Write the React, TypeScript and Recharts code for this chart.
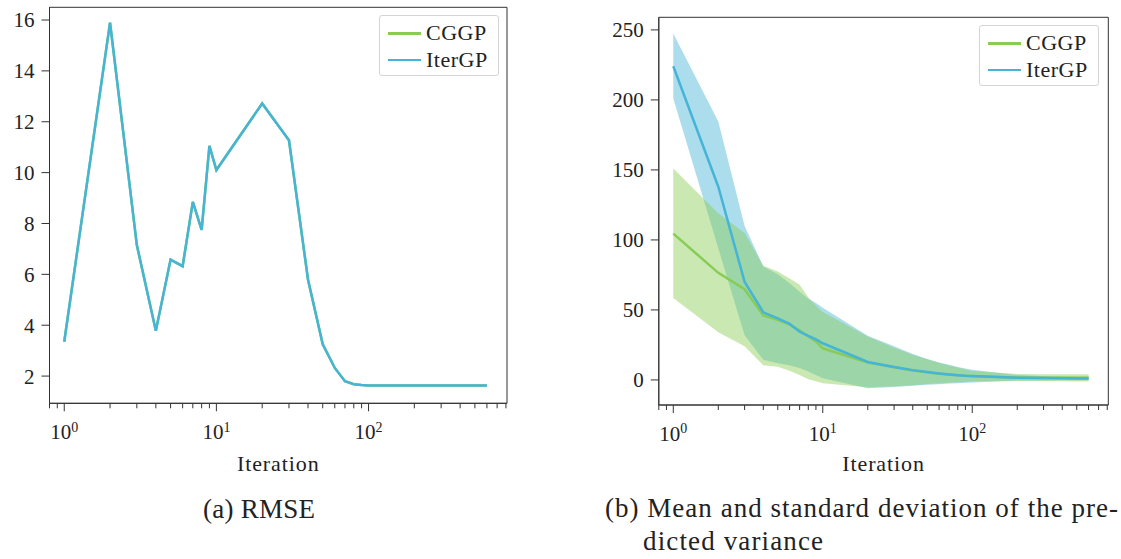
import React from "react";
import {
  ComposedChart,
  Line,
  Area,
  XAxis,
  YAxis,
  ReferenceArea,
  Legend,
} from "recharts";

// iterations on a log axis
const iterations = [1, 2, 3, 4, 5, 6, 7, 8, 9, 10, 20, 30, 40, 50, 60, 70, 80, 90, 100, 200, 300, 400, 500, 600];

// (a) RMSE - both solvers give the same curve
const rmseCGGP = [3.35, 15.9, 7.15, 3.78, 6.58, 6.32, 8.85, 7.75, 11.05, 10.1, 12.72, 11.27, 5.8, 3.25, 2.32, 1.8, 1.68, 1.65, 1.63, 1.63, 1.63, 1.63, 1.63, 1.63];
const rmseIterGP = [3.35, 15.9, 7.15, 3.78, 6.58, 6.32, 8.85, 7.75, 11.05, 10.1, 12.72, 11.27, 5.8, 3.25, 2.32, 1.8, 1.68, 1.65, 1.63, 1.63, 1.63, 1.63, 1.63, 1.63];

// (b) predicted variance: mean and mean +- std
const meanCGGP = [104.5, 76.5, 64.8, 46, 43, 39.5, 35.5, 31, 27.5, 22.6, 12.4, 9, 6.8, 5.4, 4.5, 3.8, 3.3, 2.9, 2.6, 1.7, 1.5, 1.5, 1.5, 1.5];
const lowCGGP = [58.5, 34, 24, 10.5, 9.5, 6.5, 3.5, 0.5, -1, -2.4, -5.2, -4.5, -3.8, -2.9, -2.4, -2, -1.7, -1.4, -1.2, -0.5, -0.8, -1, -1.1, -1.2];
const highCGGP = [151, 119, 105, 81.5, 77.5, 72.5, 68, 59, 53, 48.5, 31, 23, 18, 14.8, 12.2, 10.3, 8.8, 7.5, 6.4, 4.3, 4.1, 4, 4, 4];
const meanIterGP = [224, 138, 70, 48.3, 44, 40, 34.5, 31.5, 29, 26.2, 12.8, 9.3, 7, 5.6, 4.6, 3.9, 3.4, 3, 2.8, 1.6, 1.3, 1.2, 1.1, 1.1];
const lowIterGP = [201, 94, 32, 14.5, 12, 10.5, 8.5, 6, 3.5, 1.2, -6, -5, -4.2, -3.5, -3, -2.6, -2.3, -2, -1.8, -0.6, -0.4, -0.3, -0.3, -0.3];
const highIterGP = [247.5, 184.5, 110, 81, 75.5, 69, 63, 58, 55, 51.5, 31.5, 24, 18.5, 15, 12.5, 10.8, 9.3, 8.2, 7.2, 3.5, 2.6, 2.4, 2.3, 2.3];

const xTicks = [0.8, 0.9, 1, 2, 3, 4, 5, 6, 7, 8, 9, 10, 20, 30, 40, 50, 60, 70, 80, 90, 100, 200, 300, 400, 500, 600, 700, 800];
const majorTicks = [1, 10, 100];
const rmseTicks = [2, 4, 6, 8, 10, 12, 14, 16];
const varTicks = [0, 50, 100, 150, 200, 250];

const X_DOMAIN = [0.8, 813];
const RMSE_DOMAIN = [0.93, 16.5];
const VAR_DOMAIN = [-17.9, 259];

const GREEN = "#88cc55";
const BLUE = "#46b4d6";
const INK = "#222";
const FONT = '"Liberation Serif", "DejaVu Serif", serif';

const rmseData = iterations.map((x, i) => ({
  x,
  cggp: rmseCGGP[i],
  itergp: rmseIterGP[i],
}));

const varData = iterations.map((x, i) => ({
  x,
  cggp: meanCGGP[i],
  itergp: meanIterGP[i],
  cggpBand: [lowCGGP[i], highCGGP[i]],
  itergpBand: [lowIterGP[i], highIterGP[i]],
}));

function LogTick(props: any) {
  const { x, y, payload } = props;
  const v = payload.value;
  const major = majorTicks.includes(v);
  return (
    <g>
      <line x1={x} x2={x} y1={y} y2={y + (major ? 8 : 5)} stroke="#333" strokeWidth={1} />
      {major && (
        <text x={x} y={y + 35.7} textAnchor="middle" fontSize={21} fill={INK} fontFamily={FONT}>
          <tspan>10</tspan>
          <tspan dy={-7.5} fontSize={14}>
            {Math.round(Math.log10(v))}
          </tspan>
        </text>
      )}
    </g>
  );
}

function LegendBox(props: any) {
  const items = (props.payload || []).filter((p: any) => p.type !== "none");
  return (
    <div
      style={{
        boxSizing: "border-box",
        width: 120,
        height: 61,
        paddingTop: 4,
        border: "1px solid #d4d4d4",
        borderRadius: 3,
        background: "rgba(255,255,255,0.85)",
        fontFamily: FONT,
      }}
    >
      {items.map((p: any) => (
        <div key={p.value} style={{ display: "flex", alignItems: "center", height: 26.7 }}>
          <span style={{ width: 33, height: 2.5, marginLeft: 8, background: p.color }} />
          <span style={{ marginLeft: 5, fontSize: 22, letterSpacing: 0.5, color: INK, lineHeight: "22px" }}>
            {p.value}
          </span>
        </div>
      ))}
    </div>
  );
}

const xLabel = {
  value: "Iteration",
  position: "insideBottom" as const,
  offset: 9,
  fontSize: 22,
  fill: INK,
  style: { letterSpacing: 0.9 },
};

function RmseChart() {
  return (
    <ComposedChart
      width={520}
      height={480}
      data={rmseData}
      margin={{ top: 7.3, right: 13, bottom: 0, left: 0 }}
    >
      <XAxis
        dataKey="x"
        type="number"
        scale="log"
        domain={X_DOMAIN}
        allowDataOverflow
        ticks={xTicks}
        interval={0}
        tick={<LogTick />}
        tickLine={false}
        tickSize={0}
        tickMargin={0}
        height={76.7}
        axisLine={{ stroke: "#333" }}
        label={xLabel}
      />
      <YAxis
        type="number"
        domain={RMSE_DOMAIN}
        allowDataOverflow
        ticks={rmseTicks}
        interval={0}
        width={49.5}
        tickSize={8}
        tickMargin={7}
        tickLine={{ stroke: "#333" }}
        axisLine={{ stroke: "#333" }}
        tick={{ fontSize: 21, fill: INK }}
      />
      <ReferenceArea
        x1={X_DOMAIN[0]}
        x2={X_DOMAIN[1]}
        y1={RMSE_DOMAIN[0]}
        y2={RMSE_DOMAIN[1]}
        fill="none"
        stroke="#333"
        strokeWidth={1}
        ifOverflow="visible"
      />
      <Line dataKey="cggp" name="CGGP" type="linear" stroke={GREEN} strokeWidth={2.5} dot={false} activeDot={false} isAnimationActive={false} />
      <Line dataKey="itergp" name="IterGP" type="linear" stroke={BLUE} strokeWidth={2.5} dot={false} activeDot={false} isAnimationActive={false} />
      <Legend
        layout="vertical"
        align="center"
        verticalAlign="middle"
        wrapperStyle={{ left: 379, top: 15, width: 120 }}
        content={<LegendBox />}
      />
    </ComposedChart>
  );
}

function VarianceChart() {
  return (
    <ComposedChart
      width={520}
      height={480}
      data={varData}
      margin={{ top: 17.3, right: 11.7, bottom: 0, left: 0 }}
    >
      <XAxis
        dataKey="x"
        type="number"
        scale="log"
        domain={X_DOMAIN}
        allowDataOverflow
        ticks={xTicks}
        interval={0}
        tick={<LogTick />}
        tickLine={false}
        tickSize={0}
        tickMargin={0}
        height={75}
        axisLine={{ stroke: "#333" }}
        label={xLabel}
      />
      <YAxis
        type="number"
        domain={VAR_DOMAIN}
        allowDataOverflow
        ticks={varTicks}
        interval={0}
        width={58.8}
        tickSize={8}
        tickMargin={7}
        tickLine={{ stroke: "#333" }}
        axisLine={{ stroke: "#333" }}
        tick={{ fontSize: 21, fill: INK }}
      />
      <ReferenceArea
        x1={X_DOMAIN[0]}
        x2={X_DOMAIN[1]}
        y1={VAR_DOMAIN[0]}
        y2={VAR_DOMAIN[1]}
        fill="none"
        stroke="#333"
        strokeWidth={1}
        ifOverflow="visible"
      />
      <Area dataKey="itergpBand" type="linear" stroke="none" fill={BLUE} fillOpacity={0.45} legendType="none" dot={false} activeDot={false} isAnimationActive={false} />
      <Area dataKey="cggpBand" type="linear" stroke="none" fill={GREEN} fillOpacity={0.45} legendType="none" dot={false} activeDot={false} isAnimationActive={false} />
      <Line dataKey="cggp" name="CGGP" type="linear" stroke={GREEN} strokeWidth={2.5} dot={false} activeDot={false} isAnimationActive={false} />
      <Line dataKey="itergp" name="IterGP" type="linear" stroke={BLUE} strokeWidth={2.5} dot={false} activeDot={false} isAnimationActive={false} />
      <Legend
        layout="vertical"
        align="center"
        verticalAlign="middle"
        wrapperStyle={{ left: 379, top: 25, width: 120 }}
        content={<LegendBox />}
      />
    </ComposedChart>
  );
}

export default function App() {
  return (
    <div
      style={{
        position: "absolute",
        left: 0,
        top: 0,
        width: 1121,
        height: 559,
        background: "#fff",
        fontFamily: FONT,
      }}
    >
      <div style={{ position: "absolute", left: 0, top: 0 }}>
        <RmseChart />
      </div>
      <div style={{ position: "absolute", left: 600, top: 0 }}>
        <VarianceChart />
      </div>
      <svg
        width={1121}
        height={559}
        style={{ position: "absolute", left: 0, top: 0, pointerEvents: "none" }}
      >
        <g fontFamily={FONT} fontSize={27} fill={INK}>
          <text x={203} y={518} textLength={112} lengthAdjust="spacing">
            (a) RMSE
          </text>
          <text x={605} y={517} textLength={513} lengthAdjust="spacing">
            (b) Mean and standard deviation of the pre-
          </text>
          <text x={643} y={550} textLength={180} lengthAdjust="spacing">
            dicted variance
          </text>
        </g>
      </svg>
    </div>
  );
}
